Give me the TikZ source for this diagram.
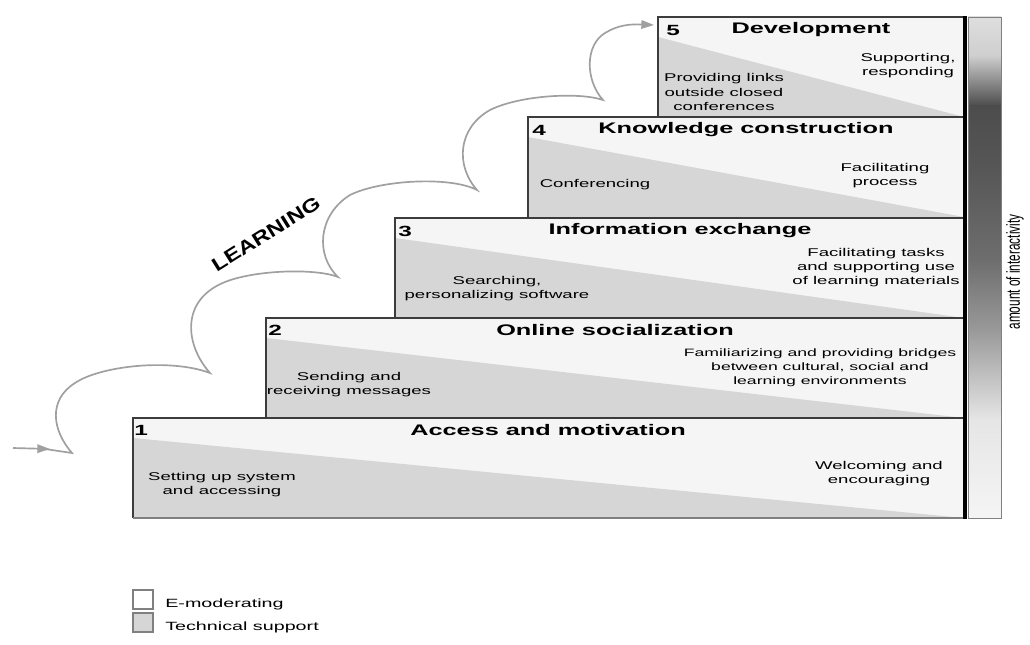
\documentclass[tikz,border=0pt]{standalone}
\usepackage{graphicx}
\usepackage{fontspec}
\setmainfont[FakeStretch=1.65]{Liberation Sans}
\newfontfamily\plainsans{Liberation Sans}
\newfontfamily\widesans[FakeStretch=1.25]{Liberation Sans}
\usetikzlibrary{arrows.meta}
\definecolor{techgray}{HTML}{D6D6D6}
\definecolor{emodwhite}{HTML}{F5F5F5}
\definecolor{edgegray}{HTML}{3C3C3C}
\definecolor{curvegray}{HTML}{A0A0A0}
\newcommand\drawstage[2]{%
  \fill[emodwhite] (#1,#2) rectangle (964,#2+100);
  \fill[techgray] (#1,#2+20) -- (964,#2+100) -- (#1,#2+100) -- cycle;
  \draw[edgegray, line width=1pt] (#1,#2+100) -- (#1,#2) -- (964,#2);
}
\begin{document}
\begin{tikzpicture}[x=0.025cm,y=-0.025cm,
  titletext/.style={font=\fontsize{10.9}{13}\selectfont\bfseries, inner sep=0pt},
  numtext/.style={font=\fontsize{10.5}{13}\selectfont\bfseries, inner sep=0pt, anchor=west},
  bodytext/.style={font=\fontsize{8}{10}\selectfont, align=center, inner sep=0pt},
  legendtext/.style={font=\fontsize{8.5}{10}\selectfont, anchor=west, inner sep=0pt},
  learncurve/.style={draw=curvegray, line width=1.2pt},
  legendbox/.style={draw=gray, line width=0.8pt}]
\useasboundingbox (0,0) rectangle (1030,644);
\fill[white] (0,0) rectangle (1030,644);

% stages
\drawstage{658}{17}
\drawstage{528}{117}
\drawstage{395}{218}
\drawstage{266}{318}
\drawstage{133}{418}
\draw[gray, line width=0.8pt] (133,518) -- (964,518);

% gradient bar
\shade[top color=black!13, bottom color=black!19] (968,17) rectangle (1001,56);
\shade[top color=black!19, bottom color=black!70] (968,55.5) rectangle (1001,106);
\shade[top color=black!70, bottom color=black!66] (968,105.5) rectangle (1001,170);
\shade[top color=black!66, bottom color=black!57] (968,169.5) rectangle (1001,260);
\shade[top color=black!57, bottom color=black!40] (968,259.5) rectangle (1001,330);
\shade[top color=black!40, bottom color=black!10] (968,329.5) rectangle (1001,420);
\shade[top color=black!10, bottom color=black!4] (968,419.5) rectangle (1001,518);
\draw[gray, line width=0.6pt] (968,17) rectangle (1001,518);
\draw[black, line width=2.8pt] (965,16) -- (965,519);
\node[rotate=90, inner sep=0pt] (interact) at (1015,272)
  {\scalebox{1}[1.6]{\plainsans\fontsize{8.4}{10}\selectfont amount of interactivity}};

% titles and numbers
\node[numtext] (n5) at (666,30) {5};
\node[titletext] (t5) at (811,30) {Development};
\node[numtext] (n4) at (532,130) {4};
\node[titletext] (t4) at (746,130) {Knowledge construction};
\node[numtext] (n3) at (398,231) {3};
\node[titletext] (t3) at (680,231) {Information exchange};
\node[numtext] (n2) at (268,330) {2};
\node[titletext] (t2) at (615,330) {Online socialization};
\node[numtext] (n1) at (134,430) {1};
\node[titletext] (t1) at (548,430) {Access and motivation};

% body texts
\node[bodytext] (s5l) at (724,92) {Providing links\\outside closed\\conferences};
\node[bodytext] (s5r) at (908,66) {Supporting,\\responding};
\node[bodytext] (s4l) at (595,185) {Conferencing};
\node[bodytext] (s4r) at (885,176) {Facilitating\\process};
\node[bodytext] (s3l) at (497,289) {Searching,\\personalizing software};
\node[bodytext] (s3r) at (876,268) {Facilitating tasks\\and supporting use\\of learning materials};
\node[bodytext] (s2l) at (349,385) {Sending and\\receiving messages};
\node[bodytext, font=\fontsize{7.6}{10}\selectfont] (s2r) at (820,368) {Familiarizing and providing bridges\\between cultural, social and\\learning environments};
\node[bodytext] (s1l) at (222,485) {Setting up system\\and accessing};
\node[bodytext] (s1r) at (879,474) {Welcoming and\\encouraging};

% learning curve
\coordinate (a0) at (13,448);
\coordinate (a1) at (50,449);
\coordinate (c0) at (72,453);
\coordinate (c1) at (210,373);
\coordinate (c2) at (338,277);
\coordinate (c3) at (477,190);
\coordinate (c4) at (603,100);
\coordinate (aend) at (654,25);
\draw[learncurve, -{Triangle[length=9pt, width=6pt]}] (a0) -- (a1);
\draw[learncurve, -{Triangle[length=9pt, width=6pt]}] (45,449) -- (c0)
  .. controls (52,430) and (48,400) .. (75,383)
  .. controls (100,366) and (170,358) .. (c1)
  .. controls (185,345) and (180,300) .. (225,282)
  .. controls (255,270) and (315,268) .. (c2)
  .. controls (315,255) and (318,215) .. (350,195)
  .. controls (380,180) and (450,176) .. (c3)
  .. controls (455,165) and (458,128) .. (490,110)
  .. controls (520,95) and (580,92) .. (c4)
  .. controls (585,80) and (585,45) .. (605,33)
  .. controls (618,25) and (630,24) .. (aend);
\node[rotate=32, inner sep=0pt, font=\widesans\fontsize{13.5}{15}\selectfont\bfseries] (learn) at (266,234) {LEARNING};

% legend
\draw[legendbox, fill=white] (133,590) rectangle (153,609);
\draw[legendbox, fill=techgray] (133,613) rectangle (153,632);
\node[legendtext] (l1) at (165,604) {E-moderating};
\node[legendtext] (l2) at (165,627) {Technical support};
\end{tikzpicture}
\end{document}
